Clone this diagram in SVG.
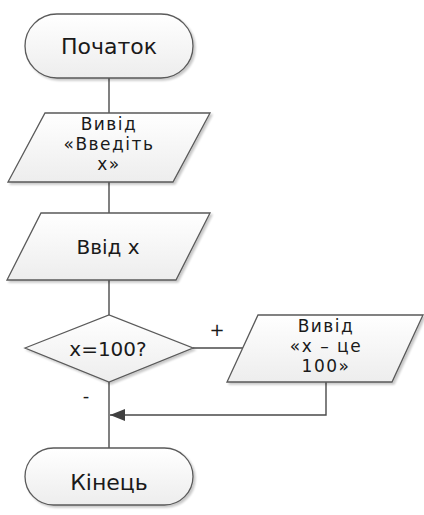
<svg xmlns="http://www.w3.org/2000/svg" width="424" height="515" viewBox="0 0 424 515">
<defs>
<linearGradient id="g" x1="0" y1="0" x2="0" y2="1">
<stop offset="0" stop-color="#ffffff"/>
<stop offset="1" stop-color="#ededed"/>
</linearGradient>
<filter id="sh" x="-10%" y="-10%" width="130%" height="140%">
<feGaussianBlur in="SourceAlpha" stdDeviation="1.2"/>
<feOffset dx="1.5" dy="2" result="b"/>
<feComponentTransfer><feFuncA type="linear" slope="0.22"/></feComponentTransfer>
<feMerge><feMergeNode/><feMergeNode in="SourceGraphic"/></feMerge>
</filter>
<marker id="ar" markerWidth="16" markerHeight="12" refX="15" refY="6" orient="auto" markerUnits="userSpaceOnUse">
<path d="M0,0 L15,6 L0,12 Z" fill="#404040"/>
</marker>
</defs>
<style>
.s{fill:url(#g);stroke:#5a5a5a;stroke-width:1.3;filter:url(#sh)}
.t{font-family:"DejaVu Sans",sans-serif;fill:#1a1a1a;text-anchor:middle}
.m{font-size:17px;letter-spacing:1.5px}
.c{stroke:#4a4a4a;stroke-width:1.4;fill:none}
</style>
<g id="connectors">
<line class="c" x1="109" y1="78" x2="109" y2="113"/>
<line class="c" x1="109" y1="182" x2="109" y2="213"/>
<line class="c" x1="109" y1="280" x2="109" y2="315"/>
<line class="c" x1="193" y1="348" x2="243" y2="348"/>
<line class="c" x1="109" y1="382" x2="109" y2="448"/>
<polyline class="c" points="326,382 326,415 110,415" marker-end="url(#ar)"/>
<text class="t" x="217" y="336" font-size="18">+</text>
<text class="t" x="86" y="402" font-size="18">-</text>
</g>
<g id="start">
<rect class="s" x="25" y="14" width="168" height="64" rx="32"/>
<text class="t" x="109" y="54" font-size="22">Початок</text>
</g>
<g id="output1">
<polygon class="s" points="45,113 210,113 173,182 8,182"/>
<text class="t m"><tspan x="109" y="130">Вивід</tspan><tspan x="109" y="150">«Введіть</tspan><tspan x="109" y="170">x»</tspan></text>
</g>
<g id="input">
<polygon class="s" points="41,213 210,213 176,280 7,280"/>
<text class="t" x="108" y="254" font-size="20">Ввід x</text>
</g>
<g id="decision">
<polygon class="s" points="25,348 109,315 193,348 109,382"/>
<text class="t" x="108" y="356" font-size="20">x=100?</text>
</g>
<g id="output2">
<polygon class="s" points="258,315 423,315 392,382 227,382"/>
<text class="t m"><tspan x="326" y="332">Вивід</tspan><tspan x="326" y="352">«x – це</tspan><tspan x="326" y="372">100»</tspan></text>
</g>
<g id="end">
<rect class="s" x="25" y="448" width="168" height="57" rx="28.5"/>
<text class="t" x="109" y="490" font-size="22">Кінець</text>
</g>
</svg>
